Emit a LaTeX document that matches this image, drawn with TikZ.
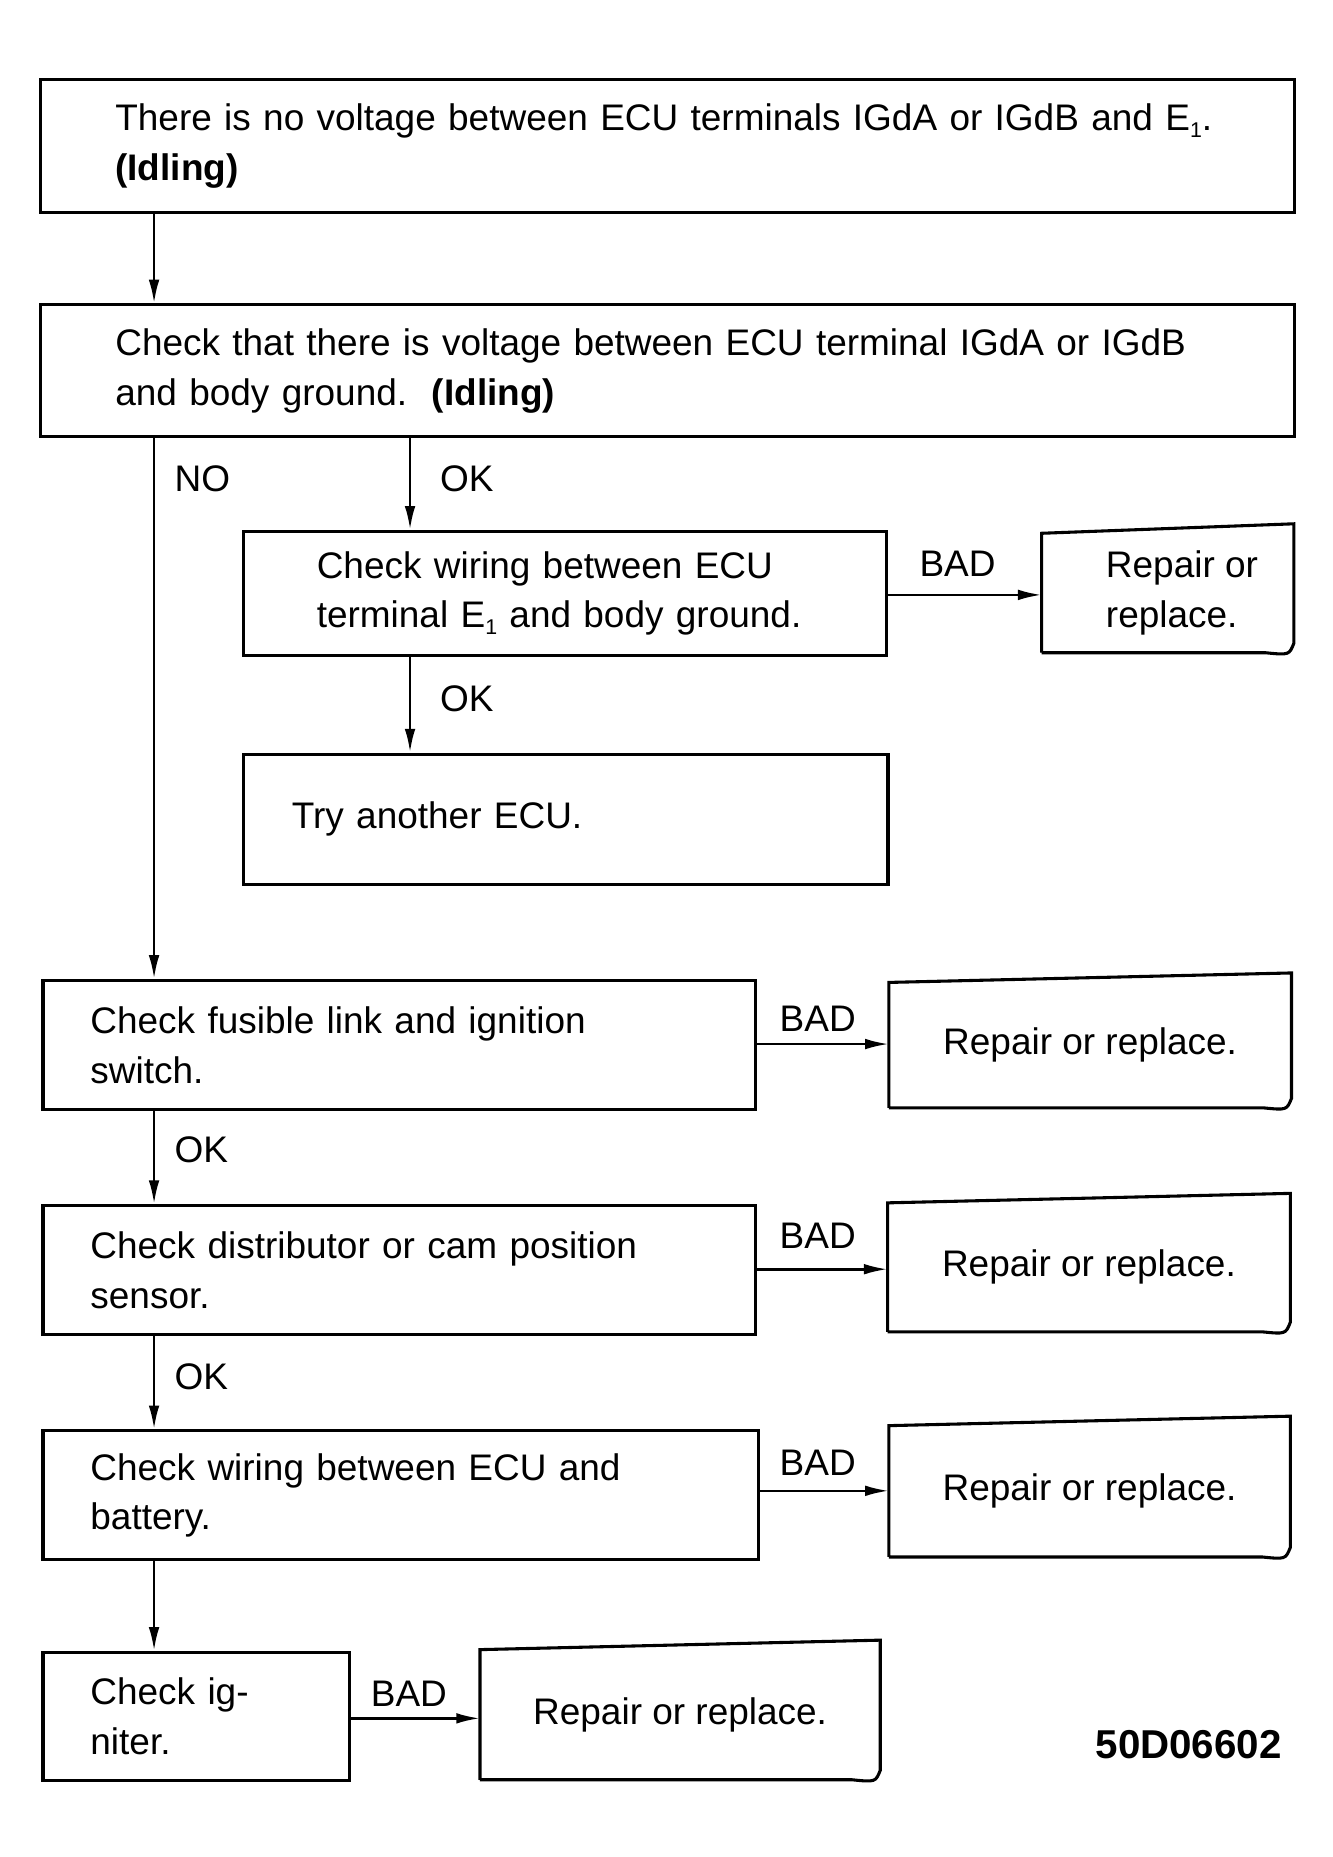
\documentclass[tikz,border=0pt]{standalone}
\usepackage{fontspec}
\setmainfont{Liberation Sans}
\usetikzlibrary{arrows.meta}
\newcommand{\sub}[1]{\raisebox{-0.35ex}{\small #1}}
\tikzset{
 box/.style={draw,line width=1.3pt,anchor=north west,align=left,inner ysep=0pt,font=\fontsize{15.6}{21}\selectfont},
 lbl/.style={font=\fontsize{15.6}{17}\selectfont,inner sep=0pt},
 arr/.style={line width=1.1pt,-{Latex[length=10pt,width=4.5pt]}},
 doc/.style={line width=1.3pt}
}
\newcommand{\bx}[7]{%
 \pgfmathsetmacro\ww{(#4-#2)*0.5}\pgfmathsetmacro\hh{(#5-#3)*0.5}\pgfmathsetmacro\pp{#6*0.5}\pgfmathsetmacro\tw{\ww-2*\pp}%
 \node[box,minimum width=\ww pt,minimum height=\hh pt,inner xsep=\pp pt,text width=\tw pt] (#1) at (#2,#3) {#7};}
\newcommand{\rp}[6]{% name x1 y1 x2 y2 text
 \pgfmathsetmacro\ww{(#4-#2)*0.5}\pgfmathsetmacro\hh{(#5-#3)*0.5}%
 \node[anchor=north west,minimum width=\ww pt,minimum height=\hh pt,inner sep=0pt,align=left,font=\fontsize{15.6}{21}\selectfont] (#1) at (#2,#3) {#6};
 \draw[doc] (#1.south west) -- (#1.north west) -- ([yshift=4pt]#1.north east) -- ([yshift=4pt]#1.south east) .. controls ([xshift=-2pt,yshift=-1pt]#1.south east) .. ([xshift=-12pt]#1.south east) -- (#1.south west);}
\begin{document}
\begin{tikzpicture}[x=0.5pt,y=-0.5pt]
\useasboundingbox (0,0) rectangle (1124,1567);
\bx{b1}{33}{66}{1091}{178}{63}{There is no voltage between ECU terminals IGdA or IGdB and E\sub{1}.\\\textbf{(Idling)}}
\bx{b2}{33}{256}{1091}{367}{63}{Check that there is voltage between ECU terminal IGdA or IGdB\\and body ground.\ \ \textbf{(Idling)}}
\bx{b3}{204}{447}{747}{552}{62}{Check wiring between ECU\\terminal E\sub{1} and body ground.}
\rp{r1}{879}{450}{1091}{550}{\hspace*{12pt}Repair or\\\hspace*{12pt}replace.}
\bx{b4}{204}{635}{748}{745}{41}{Try another ECU.}
\bx{b5}{35}{826}{636}{935}{40}{Check fusible link and ignition\\switch.}
\rp{r2}{750}{829}{1089}{934}{Repair or replace.}
\bx{b6}{35}{1016}{636}{1125}{40}{Check distributor or cam position\\sensor.}
\rp{r3}{749}{1015}{1088}{1123}{Repair or replace.}
\bx{b7}{35}{1206}{639}{1315}{40}{Check wiring between ECU and\\battery.}
\rp{r4}{750}{1203}{1088}{1313}{Repair or replace.}
\bx{b8}{35}{1393}{294}{1501}{40}{Check igniter.}
\rp{r5}{405}{1392}{742}{1501}{Repair or replace.}
\coordinate (cA) at (130,0);
\coordinate (cB) at (346,0);
\draw[arr] (b1.south -| cA) -- (b2.north -| cA);
\draw[arr] (b2.south -| cA) -- (b5.north -| cA);
\node[lbl,anchor=west] at (147,404) {NO};
\draw[arr] (b2.south -| cB) -- (b3.north -| cB);
\node[lbl,anchor=west] at (371,404) {OK};
\draw[arr] (b3.east |- 0,502) -- (r1.west |- 0,502);
\node[lbl] at (808,476) {BAD};
\draw[arr] (b3.south -| cB) -- (b4.north -| cB);
\node[lbl,anchor=west] at (371,590) {OK};
\draw[arr] (b5.east |- 0,881) -- (r2.west |- 0,881);
\node[lbl] at (690,860) {BAD};
\draw[arr] (b5.south -| cA) -- (b6.north -| cA);
\node[lbl,anchor=west] at (147,970) {OK};
\draw[arr] (b6.east |- 0,1071) -- (r3.west |- 0,1071);
\node[lbl] at (690,1043) {BAD};
\draw[arr] (b6.south -| cA) -- (b7.north -| cA);
\node[lbl,anchor=west] at (147,1162) {OK};
\draw[arr] (b7.east |- 0,1258) -- (r4.west |- 0,1258);
\node[lbl] at (690,1234) {BAD};
\draw[arr] (b7.south -| cA) -- (b8.north -| cA);
\draw[arr] (b8.east |- 0,1450) -- (r5.west |- 0,1450);
\node[lbl] at (345,1429) {BAD};
\node[lbl,font=\bfseries\fontsize{17}{19}\selectfont] (code) at (1003,1472) {50D06602};
\end{tikzpicture}
\end{document}
